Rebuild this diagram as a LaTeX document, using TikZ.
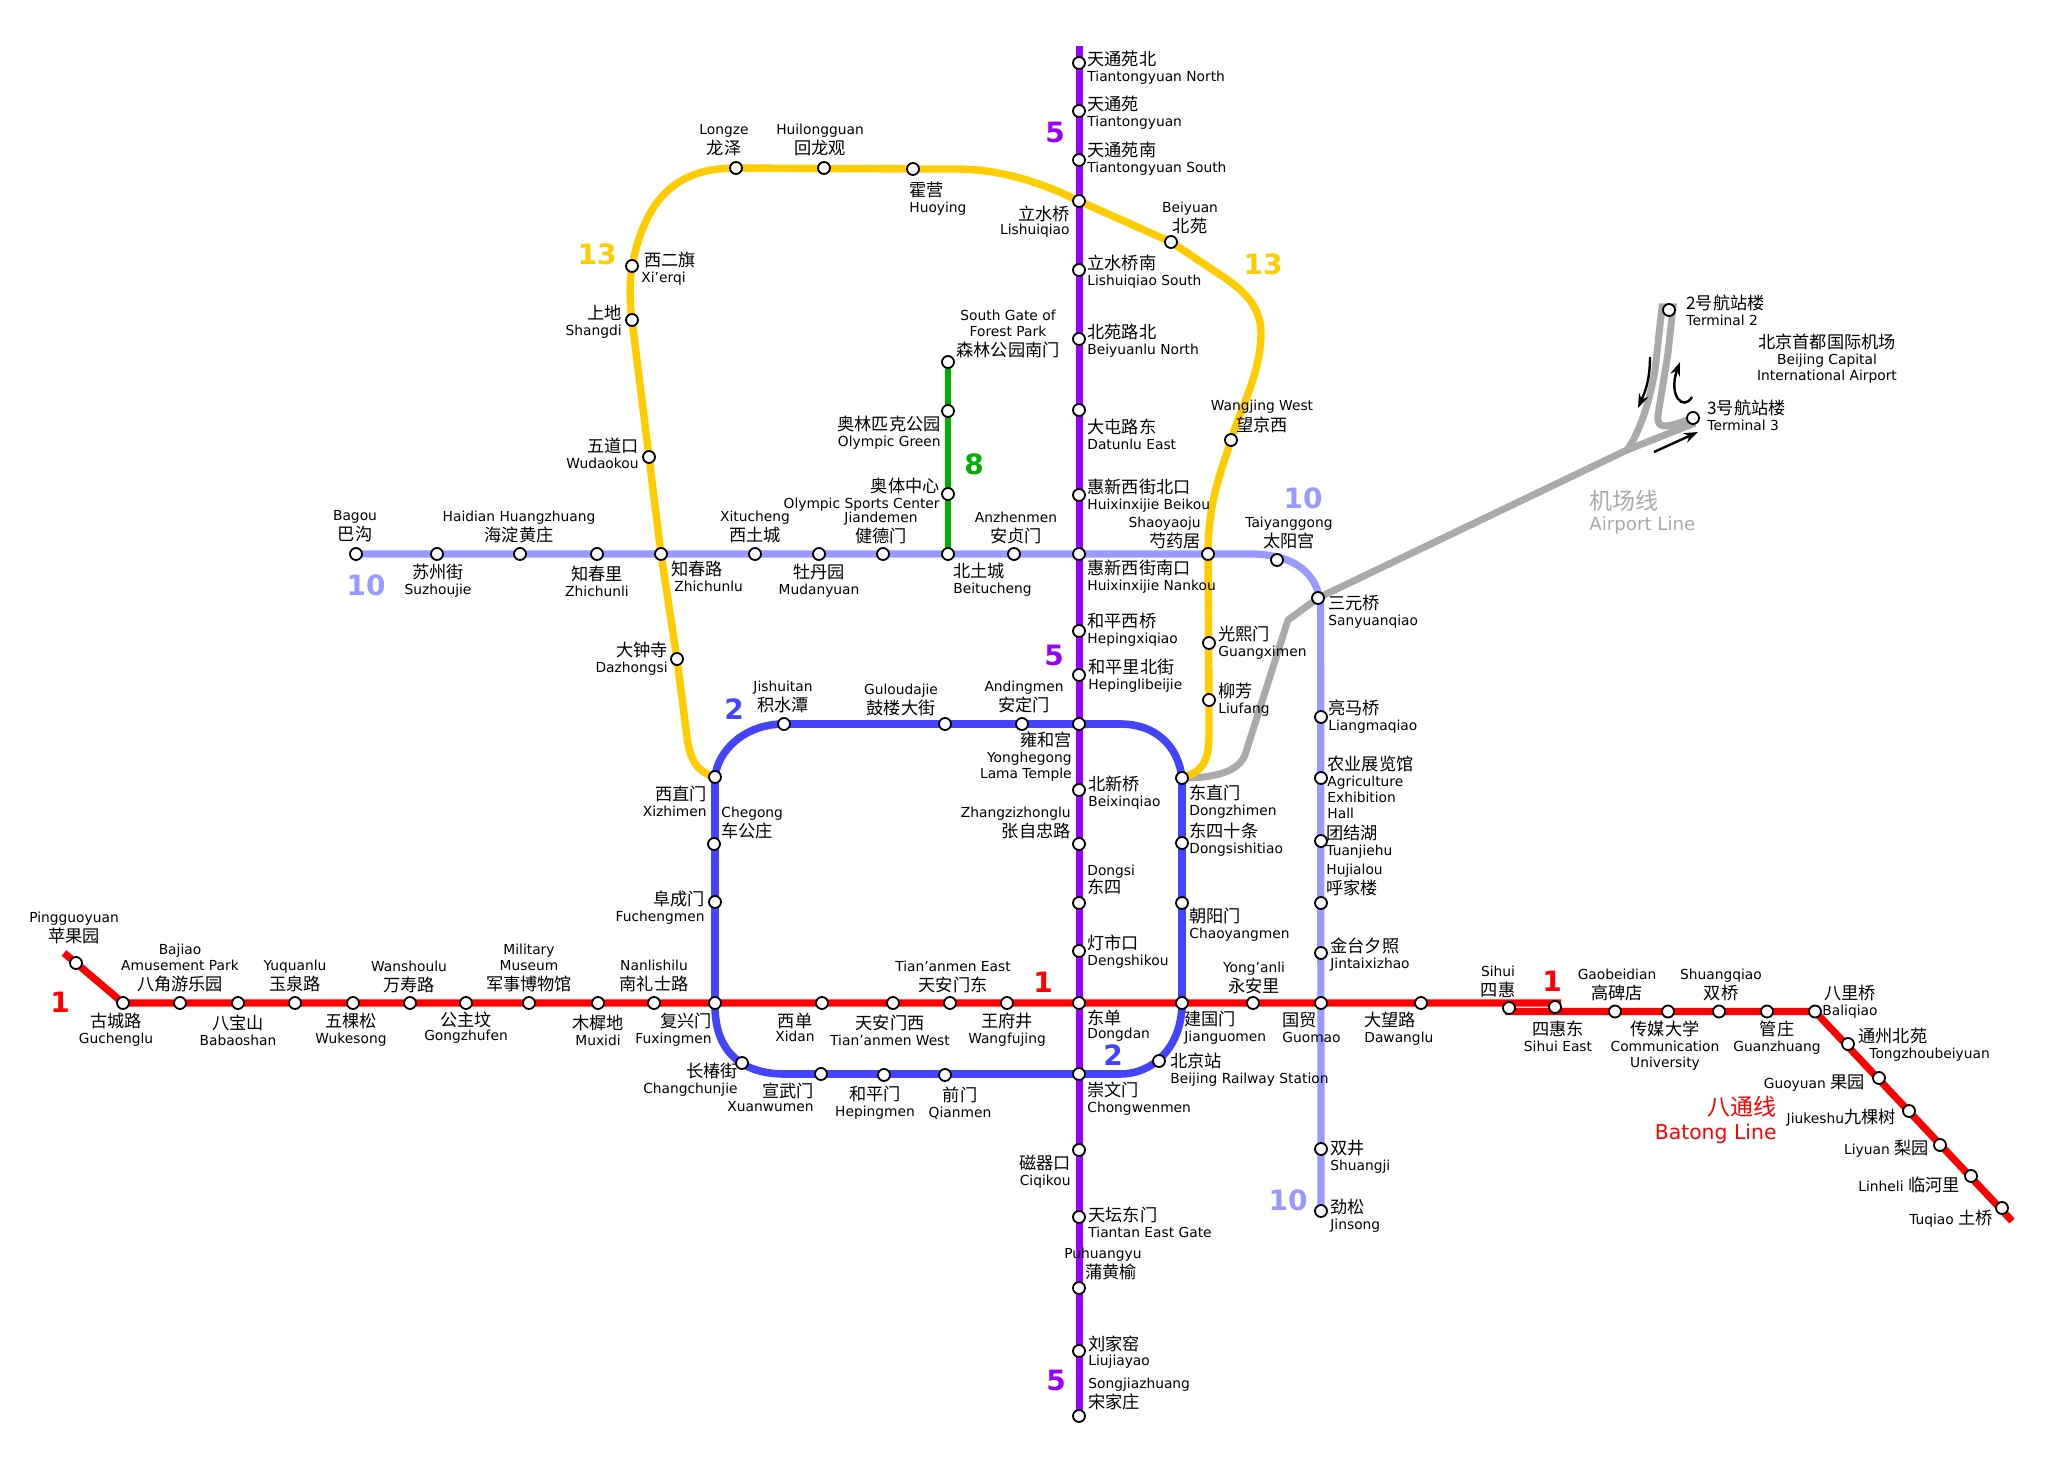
\documentclass[tikz,border=0pt]{standalone}
\usepackage{fontspec}
\setmainfont{DejaVu Sans}
\newfontfamily\cjkfont{Noto Sans CJK SC}
\newcommand{\zh}[1]{{\fontsize{8.6}{8}\selectfont\cjkfont #1}}
\newcommand{\labfont}{\fontsize{6.9}{8}\selectfont}
\AtBeginDocument{\lineskiplimit=-10pt\relax}
\usepackage{tikz}
\usetikzlibrary{arrows.meta,backgrounds}
\definecolor{cone}{HTML}{FF0000}
\definecolor{ctwo}{HTML}{4444FF}
\definecolor{cfive}{HTML}{9900FF}
\definecolor{ceight}{HTML}{00B000}
\definecolor{cten}{HTML}{9999FF}
\definecolor{cthirteen}{HTML}{FFCC00}
\definecolor{cair}{HTML}{AAAAAA}
\tikzset{
  stn/.style={circle,draw,fill=white,line width=0.9pt,minimum size=6pt,inner sep=0pt},
  lab/.style={inner sep=0pt,font=\labfont},
  labl/.style={lab,anchor=west,align=left},
  labr/.style={lab,anchor=east,align=right},
  labc/.style={lab,anchor=center,align=center},
  lnum/.style={inner sep=0pt,font=\fontsize{14}{14}\selectfont\bfseries},
  lone/.style={draw=cone,line width=3.6pt},
  ltwo/.style={draw=ctwo,line width=3.8pt},
  lfive/.style={draw=cfive,line width=3.5pt},
  leight/.style={draw=ceight,line width=3.4pt},
  lten/.style={draw=cten,line width=3.6pt},
  lthirteen/.style={draw=cthirteen,line width=3.7pt},
  lair/.style={draw=cair,line width=3.5pt},
  flow/.style={-{Stealth[length=7pt,width=5pt]},line width=1.2pt}
}
\begin{document}
\begin{tikzpicture}[x=0.5pt,y=-0.5pt]
\useasboundingbox (0,0) rectangle (2057,1460);
% line 1 west
\coordinate (oneStart) at (64,953);
\node[stn] (pingguoyuan) at (76,963) {};
\node[labc] (pingguoyuanL) at (74,928) {Pingguoyuan\\[1.7pt]\zh{苹果园}};
\node[stn] (guchenglu) at (123,1003) {};
\node[labc] (guchengluL) at (116,1030) {\zh{古城路}\\Guchenglu};
\node[stn] (bajiao) at (180,1003) {};
\node[labc] (bajiaoL) at (180,968) {Bajiao\\Amusement Park\\[1.7pt]\zh{八角游乐园}};
\node[stn] (babaoshan) at (238,1003) {};
\node[labc] (babaoshanL) at (238,1030) {\zh{八宝山}\\Babaoshan};
\node[stn] (yuquanlu) at (295,1003) {};
\node[labc] (yuquanluL) at (295,976) {Yuquanlu\\[1.7pt]\zh{玉泉路}};
\node[stn] (wukesong) at (353,1003) {};
\node[labc] (wukesongL) at (351,1030) {\zh{五棵松}\\Wukesong};
\node[stn] (wanshoulu) at (410,1003) {};
\node[labc] (wanshouluL) at (409,977) {Wanshoulu\\[1.7pt]\zh{万寿路}};
\node[stn] (gongzhufen) at (466,1003) {};
\node[labc] (gongzhufenL) at (466,1028) {\zh{公主坟}\\[-1pt]Gongzhufen};
\node[stn] (military) at (529,1003) {};
\node[labc] (militaryL) at (529,968) {Military\\Museum\\[1.7pt]\zh{军事博物馆}};
\node[stn] (muxidi) at (598,1003) {};
\node[labc] (muxidiL) at (598,1030) {\zh{木樨地}\\Muxidi};
\node[stn] (nanlishilu) at (654,1003) {};
\node[labc] (nanlishiluL) at (654,976) {Nanlishilu\\[1.7pt]\zh{南礼士路}};
\node[stn] (fuxingmen) at (715,1003) {};
\node[labr] (fuxingmenL) at (712,1030) {\zh{复兴门}\\Fuxingmen};
% line 1 centre
\node[stn] (xidan) at (822,1003) {};
\node[labc] (xidanL) at (795,1027) {\zh{西单}\\[-1pt]Xidan};
\node[stn] (tiananW) at (893,1003) {};
\node[labc] (tiananWL) at (890,1030) {\zh{天安门西}\\Tian’anmen West};
\node[stn] (tiananE) at (950,1003) {};
\node[labc] (tiananEL) at (953,977) {Tian’anmen East\\[1.7pt]\zh{天安门东}};
\node[stn] (wangfujing) at (1007,1003) {};
\node[labc] (wangfujingL) at (1007,1030) {\zh{王府井}\\Wangfujing};
\node[stn] (dongdan) at (1079,1003) {};
\node[labl] (dongdanL) at (1087,1026) {\zh{东单}\\[-1pt]Dongdan};
\node[stn] (jianguomen) at (1182,1003) {};
\node[labl] (jianguomenL) at (1184,1028) {\zh{建国门}\\Jianguomen};
\node[stn] (yonganli) at (1253,1003) {};
\node[labc] (yonganliL) at (1254,978) {Yong’anli\\[1.7pt]\zh{永安里}};
\node[stn] (guomao) at (1321,1003) {};
\node[labl] (guomaoL) at (1282,1027) {\zh{国贸}\\Guomao};
\node[stn] (dawanglu) at (1421,1003) {};
\node[labl] (dawangluL) at (1364,1029) {\zh{大望路}\\Dawanglu};
\node[stn] (sihui) at (1509,1008) {};
\node[labc] (sihuiL) at (1498,982) {Sihui\\[1.7pt]\zh{四惠}};
\node[stn] (sihuiE) at (1555,1007) {};
\node[labc] (sihuiEL) at (1558,1036) {\zh{四惠东}\\Sihui East};
\coordinate (oneEnd) at (1561,1003);
% batong
\coordinate (batongStart) at (1505,1011.5);
\node[stn] (gaobeidian) at (1615,1011.5) {};
\node[labc] (gaobeidianL) at (1617,985) {Gaobeidian\\[1.7pt]\zh{高碑店}};
\node[stn] (chuanmei) at (1668,1011.5) {};
\node[labc] (chuanmeiL) at (1665,1046) {\zh{传媒大学}\\Communication\\University};
\node[stn] (shuangqiao) at (1719,1011.5) {};
\node[labc] (shuangqiaoL) at (1721,985) {Shuangqiao\\[1.7pt]\zh{双桥}};
\node[stn] (guanzhuang) at (1767,1011.5) {};
\node[labc] (guanzhuangL) at (1777,1038) {\zh{管庄}\\Guanzhuang};
\node[stn] (baliqiao) at (1815,1011.5) {};
\node[labc] (baliqiaoL) at (1850,1002) {\zh{八里桥}\\Baliqiao};
\node[stn] (tongzhou) at (1848,1044) {};
\node[labl] (tongzhouL) at (1858,1045) {\zh{通州北苑}\\\hspace*{5.5pt}Tongzhoubeiyuan};
\node[stn] (guoyuan) at (1879,1078) {};
\node[labr] (guoyuanL) at (1865,1083) {Guoyuan \zh{果园}};
\node[stn] (jiukeshu) at (1909,1111) {};
\node[labr] (jiukeshuL) at (1896,1118) {Jiukeshu\zh{九棵树}};
\node[stn] (liyuan) at (1940,1145) {};
\node[labr] (liyuanL) at (1929,1149) {Liyuan \zh{梨园}};
\node[stn] (linheli) at (1971,1176) {};
\node[labr] (linheliL) at (1960,1185) {Linheli \zh{临河里}};
\node[stn] (tuqiao) at (2002,1208) {};
\node[labr] (tuqiaoL) at (1993,1219) {Tuqiao \zh{土桥}};
\coordinate (batongEnd) at (2012,1221);
\node[lab,anchor=east,align=right,text=cone] (batongL) at (1777,1120) {{\fontsize{11.5}{13}\selectfont\cjkfont 八通线}\\[3.8pt]{\fontsize{10.2}{13}\selectfont Batong Line}};
% line 2
\node[stn] (xizhimen) at (715,777) {};
\node[labr] (xizhimenL) at (707,801) {\zh{西直门}\\Xizhimen};
\node[stn] (chegong) at (714,844) {};
\node[labl] (chegongL) at (721,823) {Chegong\\[1.7pt]\zh{车公庄}};
\node[stn] (fuchengmen) at (715,902) {};
\node[labr] (fuchengmenL) at (705,908) {\zh{阜成门}\\Fuchengmen};
\node[stn] (changchunjie) at (742,1063) {};
\node[labr] (changchunjieL) at (738,1080) {\zh{长椿街}\\Changchunjie};
\node[stn] (xuanwumen) at (821,1074) {};
\node[labr] (xuanwumenL) at (814,1097) {\zh{宣武门}\\[-1pt]Xuanwumen};
\node[stn] (hepingmen) at (884,1075) {};
\node[labc] (hepingmenL) at (875,1103) {\zh{和平门}\\Hepingmen};
\node[stn] (qianmen) at (945,1075) {};
\node[labc] (qianmenL) at (960,1103) {\zh{前门}\\Qianmen};
\node[stn] (chongwenmen) at (1079,1074) {};
\node[labl] (chongwenmenL) at (1087,1099) {\zh{崇文门}\\Chongwenmen};
\node[stn] (bjstation) at (1159,1061) {};
\node[labl] (bjstationL) at (1170,1070) {\zh{北京站}\\Beijing Railway Station};
\node[stn] (chaoyangmen) at (1182,903) {};
\node[labl] (chaoyangmenL) at (1189,925) {\zh{朝阳门}\\Chaoyangmen};
\node[stn] (dongsishitiao) at (1182,843) {};
\node[labl] (dongsishitiaoL) at (1189,840) {\zh{东四十条}\\Dongsishitiao};
\node[stn] (dongzhimen) at (1182,778) {};
\node[labl] (dongzhimenL) at (1189,802) {\zh{东直门}\\Dongzhimen};
\node[stn] (yonghegong) at (1079,724) {};
\node[labr] (yonghegongL) at (1072,757) {\zh{雍和宫}\\Yonghegong\\Lama Temple};
\node[stn] (andingmen) at (1022,724) {};
\node[labc] (andingmenL) at (1024,697) {Andingmen\\[1.7pt]\zh{安定门}};
\node[stn] (guloudajie) at (945,724) {};
\node[labc] (guloudajieL) at (901,700) {Guloudajie\\[1.7pt]\zh{鼓楼大街}};
\node[stn] (jishuitan) at (784,724) {};
\node[labc] (jishuitanL) at (783,697) {Jishuitan\\[1.7pt]\zh{积水潭}};
% line 5
\coordinate (fiveStart) at (1079,46);
\node[stn] (tiantongN) at (1079,63) {};
\node[labl] (tiantongNL) at (1087,68) {\zh{天通苑北}\\Tiantongyuan North};
\node[stn] (tiantong) at (1079,111) {};
\node[labl] (tiantongL) at (1087,113) {\zh{天通苑}\\Tiantongyuan};
\node[stn] (tiantongS) at (1079,160) {};
\node[labl] (tiantongSL) at (1087,159) {\zh{天通苑南}\\Tiantongyuan South};
\node[stn] (lishuiqiao) at (1079,201) {};
\node[labr] (lishuiqiaoL) at (1070,222) {\zh{立水桥}\\[-1pt]Lishuiqiao};
\node[stn] (lishuiqiaoS) at (1079,270) {};
\node[labl] (lishuiqiaoSL) at (1087,272) {\zh{立水桥南}\\Lishuiqiao South};
\node[stn] (beiyuanluN) at (1079,339) {};
\node[labl] (beiyuanluNL) at (1087,341) {\zh{北苑路北}\\Beiyuanlu North};
\node[stn] (datunluE) at (1079,410) {};
\node[labl] (datunluEL) at (1087,434) {\zh{大屯路东}\\Datunlu East};
\node[stn] (beikou) at (1079,495) {};
\node[labl] (beikouL) at (1087,496) {\zh{惠新西街北口}\\Huixinxijie Beikou};
\node[stn] (nankou) at (1079,554) {};
\node[labl] (nankouL) at (1087,577) {\zh{惠新西街南口}\\Huixinxijie Nankou};
\node[stn] (hepingxiqiao) at (1079,631) {};
\node[labl] (hepingxiqiaoL) at (1087,630) {\zh{和平西桥}\\Hepingxiqiao};
\node[stn] (hepingli) at (1079,675) {};
\node[labl] (hepingliL) at (1088,676) {\zh{和平里北街}\\Hepinglibeijie};
\node[stn] (beixinqiao) at (1079,790) {};
\node[labl] (beixinqiaoL) at (1088,793) {\zh{北新桥}\\Beixinqiao};
\node[stn] (zhangzizhonglu) at (1079,844) {};
\node[labr] (zhangzizhongluL) at (1071,823) {Zhangzizhonglu\\[1.7pt]\zh{张自忠路}};
\node[stn] (dongsi) at (1079,903) {};
\node[labl] (dongsiL) at (1087,880) {Dongsi\\[1pt]\zh{东四}};
\node[stn] (dengshikou) at (1079,951) {};
\node[labl] (dengshikouL) at (1087,952) {\zh{灯市口}\\Dengshikou};
\node[stn] (ciqikou) at (1079,1150) {};
\node[labr] (ciqikouL) at (1071,1172) {\zh{磁器口}\\Ciqikou};
\node[stn] (tiantan) at (1079,1217) {};
\node[labl] (tiantanL) at (1088,1222) {\zh{天坛东门}\\Tiantan East Gate};
\node[stn] (puhuangyu) at (1079,1288) {};
\node[labl] (puhuangyuL) at (1064,1264) {Puhuangyu\\[1.7pt]\hspace*{10.5pt}\zh{蒲黄榆}};
\node[stn] (liujiayao) at (1079,1351) {};
\node[labl] (liujiayaoL) at (1088,1352) {\zh{刘家窑}\\[-0.7pt]Liujiayao};
\node[stn] (songjiazhuang) at (1079,1416) {};
\node[labl] (songjiazhuangL) at (1088,1394) {Songjiazhuang\\[1.7pt]\zh{宋家庄}};
% line 8
\node[stn] (forestpark) at (948,362) {};
\node[labc] (forestparkL) at (1008,334) {South Gate of\\Forest Park\\[1.7pt]\zh{森林公园南门}};
\node[stn] (olympicgreen) at (948,411) {};
\node[labr] (olympicgreenL) at (941,433) {\zh{奥林匹克公园}\\Olympic Green};
\node[stn] (olympicsports) at (948,494) {};
\node[labr] (olympicsportsL) at (940,495) {\zh{奥体中心}\\Olympic Sports Center};
% line 10
\node[stn] (bagou) at (356,554) {};
\node[labc] (bagouL) at (355,526) {Bagou\\[2pt]\zh{巴沟}};
\node[stn] (suzhoujie) at (437,554) {};
\node[labc] (suzhoujieL) at (438,581) {\zh{苏州街}\\Suzhoujie};
\node[stn] (haidian) at (520,554) {};
\node[labc] (haidianL) at (519,527) {Haidian Huangzhuang\\[1.7pt]\zh{海淀黄庄}};
\node[stn] (zhichunli) at (597,554) {};
\node[labc] (zhichunliL) at (597,581) {\zh{知春里}\\Zhichunli};
\node[stn] (zhichunlu) at (661,554) {};
\node[labl] (zhichunluL) at (671,576) {\zh{知春路}\\\hspace*{1.5pt}Zhichunlu};
\node[stn] (xitucheng) at (755,554) {};
\node[labc] (xituchengL) at (755,527) {Xitucheng\\[1.7pt]\zh{西土城}};
\node[stn] (mudanyuan) at (819,554) {};
\node[labc] (mudanyuanL) at (819,581) {\zh{牡丹园}\\Mudanyuan};
\node[stn] (jiandemen) at (883,554) {};
\node[labc] (jiandemenL) at (881,528) {Jiandemen\\[1.7pt]\zh{健德门}};
\node[stn] (beitucheng) at (948,554) {};
\node[labl] (beituchengL) at (953,580) {\zh{北土城}\\Beitucheng};
\node[stn] (anzhenmen) at (1014,554) {};
\node[labc] (anzhenmenL) at (1016,528) {Anzhenmen\\[1.7pt]\zh{安贞门}};
\node[stn] (shaoyaoju) at (1208,554) {};
\node[labr] (shaoyaojuL) at (1201,533) {Shaoyaoju\\[1.7pt]\zh{芍药居}};
\node[stn] (taiyanggong) at (1277,560) {};
\node[labc] (taiyanggongL) at (1289,533) {Taiyanggong\\[1.7pt]\zh{太阳宫}};
\node[stn] (sanyuanqiao) at (1318,598) {};
\node[labl] (sanyuanqiaoL) at (1328,612) {\zh{三元桥}\\Sanyuanqiao};
\node[stn] (liangmaqiao) at (1321,717) {};
\node[labl] (liangmaqiaoL) at (1328,717) {\zh{亮马桥}\\Liangmaqiao};
\node[stn] (agriculture) at (1321,778) {};
\node[labl] (agricultureL) at (1327,787) {\zh{农业展览馆}\\Agriculture\\Exhibition\\Hall};
\node[stn] (tuanjiehu) at (1321,841) {};
\node[labl] (tuanjiehuL) at (1326,842) {\zh{团结湖}\\Tuanjiehu};
\node[stn] (hujialou) at (1321,903) {};
\node[labl] (hujialouL) at (1326,880) {Hujialou\\[1.7pt]\zh{呼家楼}};
\node[stn] (jintai) at (1321,953) {};
\node[labl] (jintaiL) at (1330,955) {\zh{金台夕照}\\Jintaixizhao};
\node[stn] (shuangjing) at (1321,1149) {};
\node[labl] (shuangjingL) at (1330,1157) {\zh{双井}\\Shuangji};
\node[stn] (jinsong) at (1321,1211) {};
\node[labl] (jinsongL) at (1330,1216) {\zh{劲松}\\Jinsong};
% line 13
\node[stn] (dazhongsi) at (677,659) {};
\node[labr] (dazhongsiL) at (668,659) {\zh{大钟寺}\\Dazhongsi};
\node[stn] (wudaokou) at (649,457) {};
\node[labr] (wudaokouL) at (639,453) {\zh{五道口}\\Wudaokou};
\node[stn] (shangdi) at (632,320) {};
\node[labr] (shangdiL) at (622,322) {\zh{上地}\\Shangdi};
\node[stn] (xierqi) at (632,266) {};
\node[labl] (xierqiL) at (641,269) {\hspace*{1.5pt}\zh{西二旗}\\Xi’erqi};
\node[stn] (longze) at (736,168) {};
\node[labc] (longzeL) at (724,140) {Longze\\[2pt]\zh{龙泽}};
\node[stn] (huilongguan) at (824,168) {};
\node[labc] (huilongguanL) at (820,140) {Huilongguan\\[2pt]\zh{回龙观}};
\node[stn] (huoying) at (913,169) {};
\node[labl] (huoyingL) at (909,199) {\zh{霍营}\\Huoying};
\node[stn] (beiyuan) at (1171,242) {};
\node[labc] (beiyuanL) at (1190,218) {Beiyuan\\[1.7pt]\zh{北苑}};
\node[stn] (wangjingW) at (1231,440) {};
\node[labc] (wangjingWL) at (1262,416) {Wangjing West\\[2.5pt]\zh{望京西}};
\node[stn] (guangximen) at (1209,643) {};
\node[labl] (guangximenL) at (1218,643) {\zh{光熙门}\\Guangximen};
\node[stn] (liufang) at (1209,700) {};
\node[labl] (liufangL) at (1218,700) {\zh{柳芳}\\Liufang};
% airport
\coordinate (airFork) at (1627,450);
\coordinate (airThree) at (1695,423);
\node[stn] (terminalTwo) at (1669,310) {};
\node[labl] (terminalTwoL) at (1686,310) {\zh{2号航站楼}\\Terminal 2};
\node[stn] (terminalThree) at (1693,418) {};
\node[labl] (terminalThreeL) at (1707,415) {\zh{3号航站楼}\\Terminal 3};
\node[labc] (capitalL) at (1827,359) {\zh{北京首都国际机场}\\Beijing Capital\\International Airport};
\node[lab,anchor=west,align=left,text=cair] (airportL) at (1589,512) {{\fontsize{11.5}{12}\selectfont\cjkfont 机场线}\\[2.4pt]{\fontsize{9.1}{12}\selectfont Airport Line}};
\coordinate (flowDownA) at (1650,357);
\coordinate (flowDownB) at (1638,408);
\coordinate (flowUpA) at (1692,397);
\coordinate (flowUpB) at (1680,362);
\coordinate (flowOutA) at (1654,452);
\coordinate (flowOutB) at (1698,432);
\draw[flow] (flowDownA) .. controls (1650,380) and (1645,392) .. (flowDownB);
\draw[flow] (flowUpA) .. controls (1683,412) and (1668,395) .. (flowUpB);
\draw[flow] (flowOutA) -- (flowOutB);
% line numbers
\node[lnum,text=cone] (numOneA) at (60,1002) {1};
\node[lnum,text=cone] (numOneB) at (1043,982) {1};
\node[lnum,text=cone] (numOneC) at (1552,981) {1};
\node[lnum,text=ctwo] (numTwoA) at (734,709) {2};
\node[lnum,text=ctwo] (numTwoB) at (1113,1055) {2};
\node[lnum,text=cfive] (numFiveA) at (1055,132) {5};
\node[lnum,text=cfive] (numFiveB) at (1054,655) {5};
\node[lnum,text=cfive] (numFiveC) at (1056,1380) {5};
\node[lnum,text=ceight] (numEight) at (974,464) {8};
\node[lnum,text=cten] (numTenA) at (366,585) {10};
\node[lnum,text=cten] (numTenB) at (1303,498) {10};
\node[lnum,text=cten] (numTenC) at (1288,1200) {10};
\node[lnum,text=cthirteen] (numThirteenA) at (597,254) {13};
\node[lnum,text=cthirteen] (numThirteenB) at (1263,264) {13};
% the lines go under the stations
\begin{scope}[on background layer]
\draw[lair] (dongzhimen.center) .. controls (1215,778) and (1238,772) .. (1245,755) -- (1288,620) -- (sanyuanqiao.center) -- (airFork) -- (airThree);
\draw[lair] (airFork) .. controls (1640,432) and (1650,400) .. (1655,370) -- (1662,307) -- (1673,307) -- (1668,353) -- (1658,415) .. controls (1657,428) and (1662,430) .. (terminalThree.center);
\draw[lone] (oneStart) -- (pingguoyuan.center) -- (guchenglu.center) -- (fuxingmen.center) -- (dongdan.center) -- (jianguomen.center) -- (guomao.center) -- (oneEnd);
\draw[lone] (batongStart) -- (baliqiao.center) -- (batongEnd);
\draw[lthirteen] (xizhimen.center) .. controls (697,772) and (690,760) .. (687,737) -- (dazhongsi.center) -- (zhichunlu.center) -- (wudaokou.center) -- (shangdi.center) .. controls (630,305) and (629,285) .. (xierqi.center) .. controls (645,200) and (675,168) .. (longze.center) -- (huoying.center) -- (955,169) .. controls (1000,169) and (1040,182) .. (lishuiqiao.center) -- (beiyuan.center) -- (1222,276) .. controls (1240,288) and (1262,305) .. (1261,335) .. controls (1260,375) and (1240,410) .. (wangjingW.center) .. controls (1222,470) and (1208,500) .. (shaoyaoju.center) -- (liufang.center) -- (1209,735) .. controls (1209,765) and (1200,772) .. (dongzhimen.center);
\draw[lten] (bagou.center) -- (shaoyaoju.center) -- (1250,554) .. controls (1290,554) and (1320,570) .. (1320.6,610) -- (jinsong.center);
\draw[leight] (forestpark.center) -- (beitucheng.center);
\draw[ltwo] (xizhimen.center) .. controls (718,750) and (745,724) .. (jishuitan.center) -- (1120,724) .. controls (1155,724) and (1178,745) .. (dongzhimen.center) -- (jianguomen.center) .. controls (1182,1045) and (1155,1074) .. (1120,1074) -- (785,1074) .. controls (740,1074) and (714,1050) .. (fuxingmen.center) -- cycle;
\draw[lfive] (fiveStart) -- (songjiazhuang.center);
\end{scope}
\end{tikzpicture}
\end{document}
